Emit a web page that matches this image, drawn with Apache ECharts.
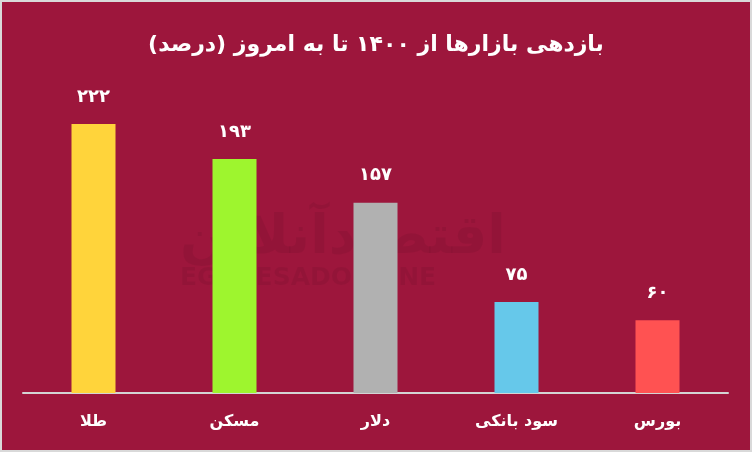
<!DOCTYPE html>
<html><head><meta charset="utf-8">
<script src="https://cdn.jsdelivr.net/npm/echarts@6/dist/echarts.min.js"></script>
<style>html,body{margin:0;padding:0;background:#9d163c}#c{width:752px;height:452px}</style>
</head><body><div id="c"></div>
<script>
const categories = ['طلا', 'مسکن', 'دلار', 'سود بانکی', 'بورس'];
const values = [222, 193, 157, 75, 60];
const colors = ['#ffd43b', '#9ef52e', '#b1b1b1', '#66c8ea', '#ff5252'];
const titleText = 'بازدهی بازارها از ۱۴۰۰ تا به امروز (درصد)';

const fa = n => String(n).replace(/[0-9]/g, d => '۰۱۲۳۴۵۶۷۸۹'[d]);
const font = "'DejaVu Sans', sans-serif";
const chart = echarts.init(document.getElementById('c'));
chart.setOption({
  backgroundColor: '#9d163c',
  animation: false,
  title: {
    text: titleText, left: 'center', top: 29,
    textStyle: { color: '#fff', fontSize: 22, fontWeight: 'bold', fontFamily: font }
  },
  graphic: [
    { type: 'text', left: 180, top: 212, z: 0,
      style: { text: 'اقتصادآنلاین', fill: 'rgba(0,0,0,0.06)', font: "bold 54px 'DejaVu Sans'" } },
    { type: 'text', left: 180, top: 266, z: 0,
      style: { text: 'EGHTESADONLINE', fill: 'rgba(0,0,0,0.06)', font: "bold 25px 'DejaVu Sans'" } },
    { type: 'rect', z: 100, shape: { x: 1, y: 1, width: 750, height: 450 },
      style: { fill: 'none', stroke: '#d9d9d9', lineWidth: 2 } }
  ],
  grid: { left: 23, right: 24, top: 90, bottom: 59 },
  xAxis: {
    type: 'category', data: categories,
    axisLine: { lineStyle: { color: '#d4d4d4', width: 2 } },
    axisTick: { show: false },
    axisLabel: { color: '#fff', fontSize: 16, fontWeight: 'bold', fontFamily: font, margin: 21 }
  },
  yAxis: { type: 'value', min: 0, max: 250, show: false, splitLine: { show: false } },
  series: [{
    type: 'bar', barWidth: 44,
    data: values.map((v, i) => ({ value: v, itemStyle: { color: colors[i] } })),
    label: {
      show: true, position: 'top', distance: 18,
      formatter: p => fa(p.value),
      color: '#fff', fontSize: 18, fontWeight: 'bold', fontFamily: font
    }
  }]
});
</script></body></html>
